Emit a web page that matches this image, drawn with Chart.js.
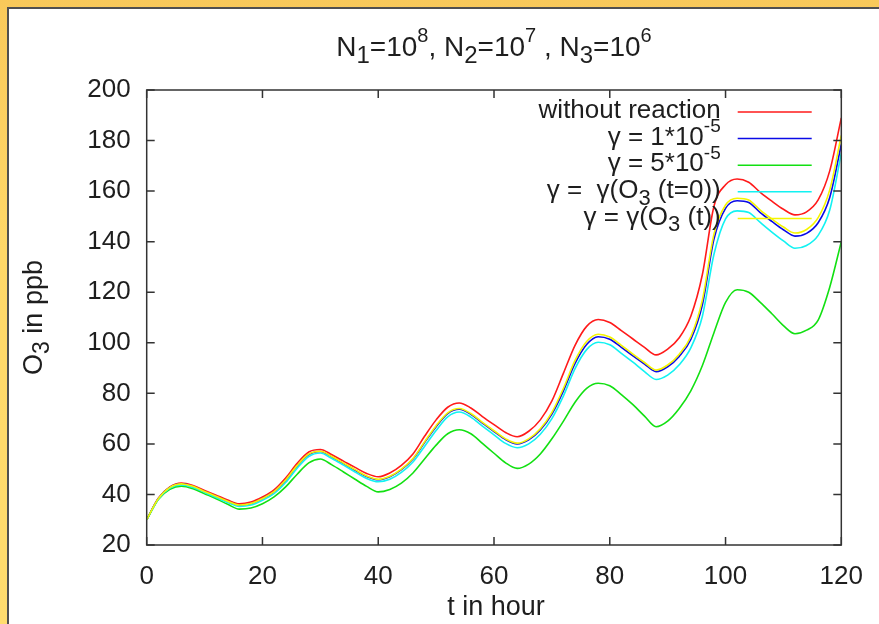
<!DOCTYPE html>
<html>
<head>
    <title>O3 - N1=10^8, N2=10^7, N3=10^6</title>
    <style>
        body {
            margin: 0;
            width: 879px;
            height: 624px;
            overflow: hidden;
            background: linear-gradient(180deg, #f9c95a 0%, #ffd868 40%, #ffdc6e 100%);
            font-family: 'Liberation Sans', Arial, sans-serif;
        }

        #frame {
            position: absolute;
            left: 7px;
            top: 7px;
            width: 872px;
            height: 617px;
            background: white;
            border-left: 2px solid #505050;
            border-top: 2px solid #505050;
        }

        #chart-box {
            position: absolute;
            left: 0;
            top: 0;
            width: 879px;
            height: 624px;
        }
    </style>
    <script src="https://cdn.jsdelivr.net/npm/chart.js"></script>
</head>
<body>
    <div id="frame"></div>
    <div id="chart-box">
        <canvas id="o3-chart"></canvas>
    </div>

    <script>
        // time axis, every 2 hours
        const hours = [0, 2, 4, 6, 8, 10, 12, 14, 16, 18, 20, 22, 24, 26, 28, 30, 32, 34, 36, 38,
            40, 42, 44, 46, 48, 50, 52, 54, 56, 58, 60, 62, 64, 66, 68, 70, 72, 74, 76, 78,
            80, 82, 84, 86, 88, 90, 92, 94, 96, 98, 100, 102, 104, 106, 108, 110, 112, 114, 116, 118, 120];

        // O3 in ppb
        const noReaction = [30, 38.5, 43, 44.5, 43.5, 41.6, 39.7, 37.8, 36.3, 37, 39, 41.8, 46.5, 52.3, 56.8, 57.8, 55.7, 53.2, 50.7, 48.3,
            47, 48.5, 51.5, 56, 63, 69.5, 74.5, 76.2, 74.2, 70.8, 67.6, 64.5, 62.8, 65, 69.5, 77, 88, 99, 106.5, 109.2,
            108, 104.8, 101.5, 98.2, 95.2, 97.5, 102, 110.5, 127, 154, 162.5, 164.8, 163.5, 159.5, 156, 152.8, 150.6, 151.8, 156.5, 168, 189];

        const gamma1e5 = [30, 38.3, 42.8, 44.2, 43.1, 41.1, 39.2, 37.2, 35.7, 36.3, 38.3, 41, 45.5, 51.3, 55.8, 57, 54.8, 52.2, 49.6, 47.1,
            45.8, 47, 49.8, 54, 60.5, 66.8, 72, 73.7, 71.7, 68.2, 64.9, 61.7, 60, 61.6, 65.5, 71.8, 81, 91.8, 99.3, 102.4,
            101.4, 98.2, 94.8, 91.6, 88.6, 90.5, 94.6, 101.3, 115, 141, 153.2, 156.2, 155.5, 151.5, 148, 144.7, 142.2, 143.3, 147.5, 157.5, 178.5];

        const gamma5e5 = [30, 38, 42, 43.3, 42.3, 40.3, 38.3, 36.1, 34.2, 34.6, 36.3, 39, 43, 48, 52.5, 54, 51.7, 48.9, 46, 43.2,
            41, 42, 44.5, 48.5, 54, 59.5, 64, 65.6, 64, 60.2, 56.3, 52.5, 50.3, 52, 56, 62, 69, 76.5, 82, 84,
            83, 79.5, 75.5, 71, 66.8, 69, 74, 81, 91, 104, 116, 121, 120, 116, 111.5, 106.8, 103.6, 105, 109, 122, 140];

        const gammaO3t0 = [30, 38.1, 42.5, 43.8, 42.8, 40.8, 38.8, 36.8, 35.3, 35.8, 37.7, 40.3, 44.7, 50.4, 55, 56.4, 54.2, 51.6, 48.9, 46.3,
            45, 46, 48.7, 52.8, 59, 65.3, 70.7, 72.6, 70.6, 67, 63.6, 60.2, 58.5, 60, 63.8, 70, 79, 89.8, 97.3, 100.2,
            99.2, 95.8, 92.3, 88.6, 85.5, 87.2, 91.3, 98, 110.5, 135, 149, 152.2, 151.5, 147.6, 143.8, 140.3, 137.4, 138.5, 142.5, 152.5, 175];

        const gammaO3t = [30, 38.3, 42.8, 44.2, 43.2, 41.2, 39.3, 37.3, 35.8, 36.4, 38.4, 41.1, 45.7, 51.5, 56, 57.1, 55, 52.4, 49.8, 47.3,
            46, 47.2, 50, 54.2, 60.8, 67.2, 72.3, 74, 72, 68.5, 65.2, 62, 60.3, 62, 66, 72.5, 82, 93, 100.5, 103.4,
            102.3, 99, 95.5, 92.2, 89.2, 91.2, 95.5, 102.5, 117, 143, 154.5, 157.2, 156.5, 152.5, 149, 145.8, 143.4, 144.8, 149.5, 160.5, 182];

        const xTicks = [0, 20, 40, 60, 80, 100, 120];
        const yTicks = [20, 40, 60, 80, 100, 120, 140, 160, 180, 200];

        const TEXT = '#1e1e1e';
        const FONT = "'Liberation Sans', Arial, sans-serif";

        // legend entries: rich text parts [text, mode] (mode 1 = sup, -1 = sub)
        const series = [
            { data: noReaction, color: '#ff1a1a', label: [['without reaction', 0]] },
            { data: gamma1e5, color: '#0a0ae6', label: [['\u03b3 = 1*10', 0], ['-5', 1]] },
            { data: gamma5e5, color: '#12e012', label: [['\u03b3 = 5*10', 0], ['-5', 1]] },
            { data: gammaO3t0, color: '#12f2f2', label: [['\u03b3 =  \u03b3(O', 0], ['3', -1], [' (t=0))', 0]] },
            { data: gammaO3t, color: '#f5f500', label: [['\u03b3 = \u03b3(O', 0], ['3', -1], [' (t))', 0]] }
        ];

        function drawRich(ctx, parts, x, y, align, size) {
            const fontOf = mode => (mode === 1 ? Math.round(size * 0.72) : mode === -1 ? Math.round(size * 0.85) : size) + 'px ' + FONT;
            let width = 0;
            parts.forEach(p => { ctx.font = fontOf(p[1]); width += ctx.measureText(p[0]).width; });
            let cx = align === 'right' ? x - width : align === 'center' ? x - width / 2 : x;
            ctx.textAlign = 'left';
            ctx.textBaseline = 'middle';
            parts.forEach(p => {
                ctx.font = fontOf(p[1]);
                const dy = p[1] === 1 ? -size * 0.42 : p[1] === -1 ? size * 0.3 : 0;
                ctx.fillText(p[0], cx, y + dy);
                cx += ctx.measureText(p[0]).width;
            });
        }

        // gnuplot style frame, inward ticks, key and titles
        const gnuplotDecor = {
            id: 'gnuplotDecor',
            afterDraw(chart) {
                const ctx = chart.ctx;
                const area = chart.chartArea;
                const xs = chart.scales.x;
                const ys = chart.scales.y;
                ctx.save();

                ctx.strokeStyle = '#333';
                ctx.lineWidth = 1.5;
                ctx.strokeRect(area.left, area.top, area.right - area.left, area.bottom - area.top);

                ctx.beginPath();
                xTicks.forEach(v => {
                    const px = xs.getPixelForValue(v);
                    ctx.moveTo(px, area.bottom); ctx.lineTo(px, area.bottom - 8);
                    ctx.moveTo(px, area.top); ctx.lineTo(px, area.top + 8);
                });
                yTicks.forEach(v => {
                    const py = ys.getPixelForValue(v);
                    ctx.moveTo(area.left, py); ctx.lineTo(area.left + 8, py);
                    ctx.moveTo(area.right, py); ctx.lineTo(area.right - 8, py);
                });
                ctx.stroke();

                // key
                ctx.fillStyle = TEXT;
                series.forEach((s, i) => {
                    const ly = area.top + 22 + i * 26.6;
                    drawRich(ctx, s.label, area.left + 574, ly - 1, 'right', 26);
                    ctx.strokeStyle = s.color;
                    ctx.lineWidth = 1.5;
                    ctx.beginPath();
                    ctx.moveTo(area.left + 591, ly);
                    ctx.lineTo(area.left + 665, ly);
                    ctx.stroke();
                });

                // titles
                ctx.fillStyle = TEXT;
                drawRich(ctx, [['N', 0], ['1', -1], ['=10', 0], ['8', 1], [', N', 0], ['2', -1], ['=10', 0], ['7', 1],
                    [' , N', 0], ['3', -1], ['=10', 0], ['6', 1]], 494, 48, 'center', 28);
                drawRich(ctx, [['t in hour', 0]], (area.left + area.right) / 2 + 2, 608, 'center', 27);

                ctx.translate(35, (area.top + area.bottom) / 2);
                ctx.rotate(-Math.PI / 2);
                drawRich(ctx, [['O', 0], ['3', -1], [' in ppb', 0]], 0, 0, 'center', 27);

                ctx.restore();
            }
        };

        const ctx = document.getElementById('o3-chart').getContext('2d');
        const o3Chart = new Chart(ctx, {
            type: 'line',
            data: {
                datasets: series.map((s, i) => ({
                    label: s.label.map(p => p[0]).join(''),
                    data: hours.map((h, k) => ({ x: h, y: s.data[k] })),
                    borderColor: s.color,
                    borderWidth: 1.6,
                    pointRadius: 0,
                    fill: false,
                    cubicInterpolationMode: 'monotone',
                    order: series.length - i
                }))
            },
            options: {
                responsive: true,
                maintainAspectRatio: false,
                animation: false,
                events: [],
                layout: { padding: { top: 90, right: 37.3, left: 0, bottom: 0 } },
                plugins: {
                    legend: { display: false },
                    title: { display: false },
                    tooltip: { enabled: false }
                },
                scales: {
                    x: {
                        type: 'linear',
                        min: 0,
                        max: 120,
                        afterFit: scale => { scale.height = 79; },
                        grid: { display: false, drawTicks: false },
                        border: { display: false },
                        ticks: {
                            stepSize: 20,
                            padding: 16,
                            color: TEXT,
                            font: { family: FONT, size: 26 },
                            maxRotation: 0
                        }
                    },
                    y: {
                        min: 20,
                        max: 200,
                        afterFit: scale => { scale.width = 146.7; },
                        grid: { display: false, drawTicks: false },
                        border: { display: false },
                        ticks: {
                            stepSize: 20,
                            padding: 16,
                            color: TEXT,
                            font: { family: FONT, size: 26 }
                        }
                    }
                }
            },
            plugins: [gnuplotDecor]
        });
    </script>
</body>
</html>
